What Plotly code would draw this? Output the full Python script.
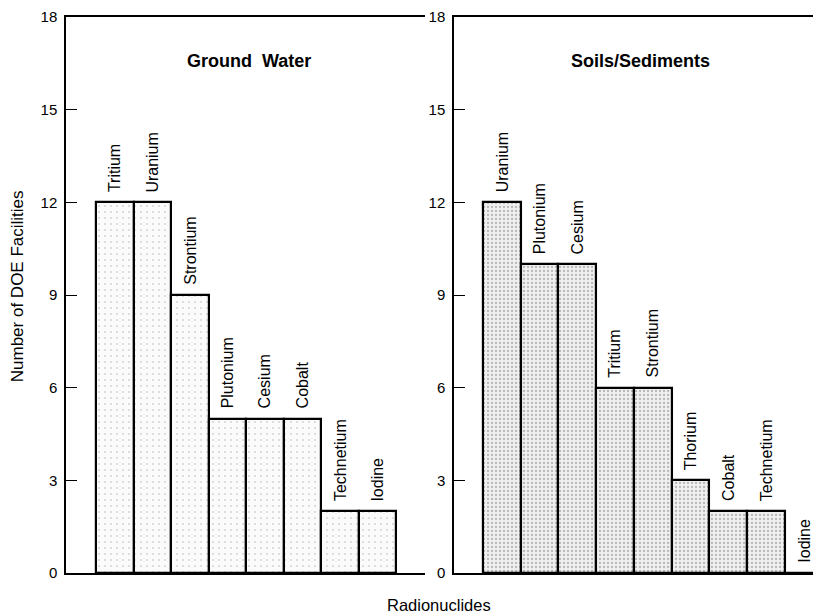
import plotly.graph_objects as go

gw_nuclides = ["Tritium", "Uranium", "Strontium", "Plutonium", "Cesium", "Cobalt", "Technetium", "Iodine"]
gw_counts = [12, 12, 9, 5, 5, 5, 2, 2]

ss_nuclides = ["Uranium", "Plutonium", "Cesium", "Tritium", "Strontium", "Thorium", "Cobalt", "Technetium", "Iodine"]
ss_counts = [12, 10, 10, 6, 6, 3, 2, 2, 0]

y_ticks = [0, 3, 6, 9, 12, 15, 18]
panel_titles = ["Ground  Water", "Soils/Sediments"]
y_title = "Number of DOE Facilities"
x_title = "Radionuclides"

FONT = "Liberation Sans, Arial, Helvetica, sans-serif"

fig = go.Figure()

fig.add_trace(go.Bar(
    x=list(range(len(gw_nuclides))), y=gw_counts, width=1.0,
    marker=dict(color="white", line=dict(color="black", width=2.2),
                pattern=dict(shape=".", fgcolor="#b0b0b0", bgcolor="#fbfbfb", size=6, solidity=0.1)),
    xaxis="x", yaxis="y", showlegend=False, hoverinfo="skip",
))
fig.add_trace(go.Bar(
    x=list(range(len(ss_nuclides))), y=ss_counts, width=1.0,
    marker=dict(color="white", line=dict(color="black", width=2.2),
                pattern=dict(shape=".", fgcolor="#7a7a7a", bgcolor="#f0f0f0", size=4, solidity=0.25)),
    xaxis="x2", yaxis="y2", showlegend=False, hoverinfo="skip",
))

annotations = []
for i, (name, v) in enumerate(zip(gw_nuclides, gw_counts)):
    annotations.append(dict(x=i, y=v, xref="x", yref="y", text=name, textangle=-90,
                            showarrow=False, yanchor="bottom", xanchor="center", yshift=8,
                            font=dict(family=FONT, size=16, color="black")))
for i, (name, v) in enumerate(zip(ss_nuclides, ss_counts)):
    annotations.append(dict(x=i, y=v, xref="x2", yref="y2", text=name, textangle=-90,
                            showarrow=False, yanchor="bottom", xanchor="center", yshift=8,
                            font=dict(family=FONT, size=16, color="black")))

annotations.append(dict(x=0.2427, y=0.92, xref="paper", yref="paper",
                        text="<b>" + panel_titles[0].replace("  ", " &nbsp;") + "</b>",
                        showarrow=False, xanchor="center", yanchor="middle",
                        font=dict(family=FONT, size=18, color="black")))
annotations.append(dict(x=0.7646, y=0.92, xref="paper", yref="paper", text="<b>" + panel_titles[1] + "</b>",
                        showarrow=False, xanchor="center", yanchor="middle",
                        font=dict(family=FONT, size=18, color="black")))
annotations.append(dict(x=-0.065, y=0.516, xref="paper", yref="paper", text=y_title, textangle=-90,
                        showarrow=False, xanchor="center", yanchor="middle",
                        font=dict(family=FONT, size=17, color="black")))
annotations.append(dict(x=0.496, y=-0.057, xref="paper", yref="paper", text=x_title,
                        showarrow=False, xanchor="center", yanchor="middle",
                        font=dict(family=FONT, size=16.5, color="black")))

xaxis_common = dict(showline=True, linecolor="black", linewidth=1.5, mirror=True,
                    showticklabels=False, ticks="", showgrid=False, zeroline=False,
                    automargin=False)
yaxis_common = dict(range=[0, 18], tickvals=y_ticks, ticks="inside", ticklen=11, tickwidth=1.2,
                    tickcolor="black", showline=True, linecolor="black", linewidth=1.5,
                    showgrid=False, zeroline=False, ticklabelstandoff=4,
                    ticklabeloverflow="allow", automargin=False,
                    tickfont=dict(family=FONT, size=15, color="black"))

fig.update_layout(
    width=813, height=608,
    margin=dict(l=58, r=3, t=9, b=43, autoexpand=False),
    paper_bgcolor="white", plot_bgcolor="white",
    bargap=0,
    xaxis=dict(domain=[0, 0.4774], range=[-1.3, 8.27], **xaxis_common),
    xaxis2=dict(domain=[0.516, 1.0], range=[-1.27, 8.38], anchor="y2", **xaxis_common),
    yaxis=dict(anchor="x", **yaxis_common),
    yaxis2=dict(anchor="x2", **yaxis_common),
    annotations=annotations,
)

fig.write_html("out.html")
